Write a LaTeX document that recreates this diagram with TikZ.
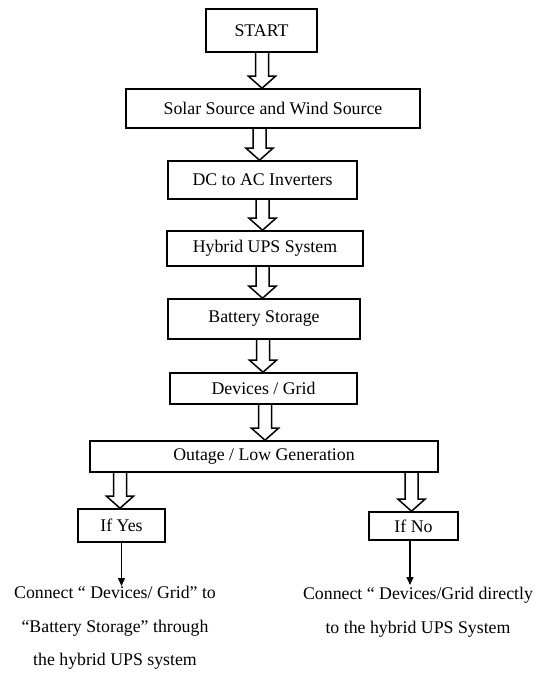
\documentclass[tikz,border=0pt]{standalone}
\usepackage{fontspec}
\setmainfont{Liberation Serif}
\usetikzlibrary{calc,arrows.meta}
\tikzset{
    stage/.style={draw, line width=1.6pt, inner sep=0pt, font=\fontsize{17.8}{21}\selectfont},
    hollow/.style={draw, line width=1.5pt, line join=miter},
    thin arr/.style={line width=1.3pt, -{Triangle[length=8pt,width=7pt]}},
    outcome/.style={inner sep=0pt, align=center, font=\fontsize{17.8}{21}\selectfont}
}
% block arrow: x position, from node, to node
\newcommand{\hollowarrow}[3]{%
  \coordinate (ax) at (#1,0);
  \draw[hollow] ($(#2.south -| ax)+(-6.5,0)$) -- ($(#3.north -| ax)+(-6.5,-12)$)
    -- ++(-7,0) -- (#3.north -| ax) -- ++(13.5,-12) -- ++(-7,0)
    -- ($(#2.south -| ax)+(6.5,0)$);
}

\begin{document}
\begin{tikzpicture}[x=1pt,y=-1pt]
\useasboundingbox (0,0) rectangle (543,673);
\node[stage,minimum width=111pt,minimum height=43pt] (start)   at (261.5,30.5) {START};
\node[stage,minimum width=294pt,minimum height=39pt] (solar)   at (273,108.5)  {Solar Source and Wind Source};
\node[stage,minimum width=189pt,minimum height=38pt] (dcac)    at (262.5,180)  {DC to AC Inverters};
\node[stage,minimum width=196pt,minimum height=35pt] (hybrid)  at (265,248.5)  {Hybrid UPS System};
\node[stage,minimum width=192pt,minimum height=40pt] (battery) at (264,319)    {Battery Storage};
\node[stage,minimum width=187pt,minimum height=31pt] (devices) at (263.5,388.5) {Devices / Grid};
\node[stage,minimum width=348pt,minimum height=31pt] (outage)  at (264,456.5)  {Outage / Low Generation};
\node[stage,minimum width=87pt,minimum height=33pt]  (yes)     at (121.5,525.5) {If Yes};
\node[stage,minimum width=89pt,minimum height=28pt]  (no)      at (413.5,526)  {If No};

\hollowarrow{262}{start}{solar}
\hollowarrow{259.5}{solar}{dcac}
\hollowarrow{262.5}{dcac}{hybrid}
\hollowarrow{262.5}{hybrid}{battery}
\hollowarrow{263}{battery}{devices}
\hollowarrow{265}{devices}{outage}
\hollowarrow{120}{outage}{yes}
\hollowarrow{411.5}{outage}{no}

\node[outcome,anchor=north] (yestext) at (115,586)
  {Connect “ Devices/ Grid” to\\[13pt]“Battery Storage” through\\[12pt]the hybrid UPS system};
\node[outcome,anchor=north] (notext) at (418,587)
  {Connect “ Devices/Grid directly\\[13pt]to the hybrid UPS System};

\draw[thin arr] (yes.south) -- (yes.south |- yestext.north);
\draw[thin arr] (no.south -| 410,0) -- (410,585);
\end{tikzpicture}
\end{document}
